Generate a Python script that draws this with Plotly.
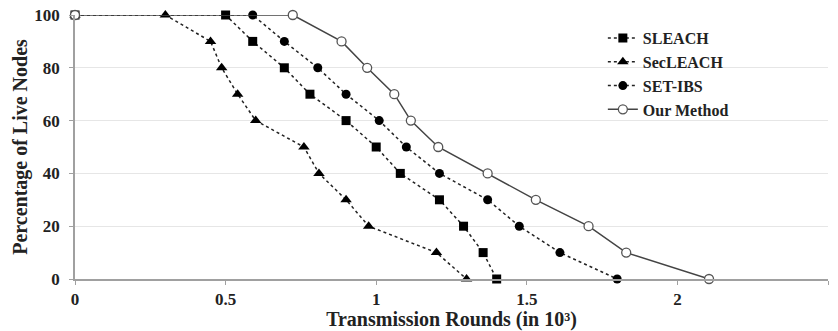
import plotly.graph_objects as go

sleach_x = [0, 0.50, 0.59, 0.695, 0.78, 0.90, 1.00, 1.08, 1.21, 1.29, 1.355, 1.40]
sleach_y = [100, 100, 90, 80, 70, 60, 50, 40, 30, 20, 10, 0]

secleach_x = [0, 0.30, 0.45, 0.487, 0.54, 0.60, 0.76, 0.81, 0.90, 0.975, 1.20, 1.30]
secleach_y = [100, 100, 90, 80, 70, 60, 50, 40, 30, 20, 10, 0]

setibs_x = [0, 0.59, 0.695, 0.806, 0.90, 1.01, 1.10, 1.21, 1.37, 1.475, 1.61, 1.80]
setibs_y = [100, 100, 90, 80, 70, 60, 50, 40, 30, 20, 10, 0]

ours_x = [0, 0.723, 0.885, 0.97, 1.06, 1.115, 1.206, 1.37, 1.53, 1.705, 1.83, 2.105]
ours_y = [100, 100, 90, 80, 70, 60, 50, 40, 30, 20, 10, 0]

x_ticks = [0, 0.5, 1, 1.5, 2, 2.5]
x_ticklabels = ["0", "0.5", "1", "1.5", "2", "2.5"]
y_ticks = [0, 20, 40, 60, 80, 100]

FONT = "Liberation Serif"
dash = "3px,3px"

fig = go.Figure()
fig.add_trace(go.Scatter(x=sleach_x, y=sleach_y, name="SLEACH", mode="lines+markers",
                         cliponaxis=False,
                         line=dict(color="#222222", width=1.5, dash=dash),
                         marker=dict(symbol="square", size=9, color="black")))
fig.add_trace(go.Scatter(x=secleach_x, y=secleach_y, name="SecLEACH", mode="lines+markers",
                         cliponaxis=False,
                         line=dict(color="#222222", width=1.5, dash=dash),
                         marker=dict(symbol="triangle-up", size=10, color="black")))
fig.add_trace(go.Scatter(x=setibs_x, y=setibs_y, name="SET-IBS", mode="lines+markers",
                         cliponaxis=False,
                         line=dict(color="#222222", width=1.5, dash=dash),
                         marker=dict(symbol="circle", size=9, color="black")))
fig.add_trace(go.Scatter(x=ours_x, y=ours_y, name="Our Method", mode="lines+markers",
                         cliponaxis=False,
                         line=dict(color="#444444", width=1.5),
                         marker=dict(symbol="circle", size=9, color="white",
                                     line=dict(color="#555555", width=1.3))))

fig.update_layout(
    width=838, height=331,
    margin=dict(l=75, r=10, t=15, b=52),
    plot_bgcolor="white", paper_bgcolor="white",
    font=dict(family=FONT, size=17, color="#222222"),
    showlegend=True,
    legend=dict(x=0.701, y=0.977, xanchor="left", yanchor="top",
                bgcolor="rgba(0,0,0,0)",
                font=dict(family=FONT, size=16, color="#222222", weight="bold"),
                itemwidth=30),
    xaxis=dict(range=[0, 2.5], tickvals=x_ticks, ticktext=x_ticklabels,
               showgrid=False, zeroline=False, automargin=False,
               showline=True, linecolor="#a0a0a0", linewidth=1.5,
               ticks="outside", ticklen=4, tickcolor="#a0a0a0",
               ticklabelstandoff=0,
               tickfont=dict(family=FONT, size=17, weight="bold"),
               title=dict(text="Transmission Rounds (in 10³)", standoff=0,
                          font=dict(family=FONT, size=20, weight="bold"))),
    yaxis=dict(range=[0, 100], tickvals=y_ticks,
               showgrid=True, gridcolor="#e6e6e6", gridwidth=1, zeroline=False,
               automargin=False,
               showline=True, linecolor="#a0a0a0", linewidth=1.5,
               ticks="outside", ticklen=4, tickcolor="#a0a0a0",
               ticklabelstandoff=6,
               tickfont=dict(family=FONT, size=17, weight="bold"),
               title=dict(text="Percentage of Live Nodes", standoff=1,
                          font=dict(family=FONT, size=20, weight="bold"))),
)

fig.write_html("out.html", config={"displayModeBar": False},
               post_script="document.body.style.margin='0px';")
